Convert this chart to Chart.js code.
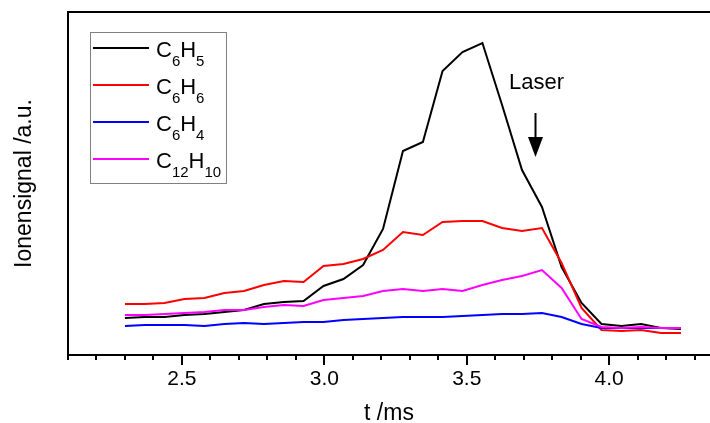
<!DOCTYPE html>
<html>
<head>
<meta charset="utf-8">
<script src="https://cdn.jsdelivr.net/npm/chart.js@4/dist/chart.umd.min.js"></script>
<style>
    html, body { margin: 0; padding: 0; background: #fff; }
    #wrap { width: 710px; height: 423px; }
</style>
</head>
<body>
<div id="wrap"><canvas id="ionChart" width="710" height="423"></canvas></div>
<script>
const FONT = '"Liberation Sans", Arial, sans-serif';

// Zeitachse (ms)
const timeMs = [2.300, 2.370, 2.439, 2.509, 2.579, 2.649, 2.718, 2.788, 2.858, 2.927,
                2.997, 3.067, 3.136, 3.206, 3.276, 3.346, 3.415, 3.485, 3.555, 3.624,
                3.694, 3.764, 3.833, 3.903, 3.973, 4.043, 4.112, 4.182, 4.252];

// Ionensignale (a.u.)
const c6h5   = [37, 38, 38, 40, 41, 43, 45, 51, 53, 54, 69, 76, 90, 126, 204, 213, 284, 303, 312, 250, 185, 148, 88, 52, 31, 29, 31, 27, 26];
const c6h6   = [51, 51, 52, 56, 57, 62, 64, 70, 74, 73, 89, 91, 96, 105, 123, 120, 133, 134, 134, 127, 124, 127, 92, 47, 25, 24, 25, 22, 22];
const c6h4   = [29, 30, 30, 30, 29, 31, 32, 31, 32, 33, 33, 35, 36, 37, 38, 38, 38, 39, 40, 41, 41, 42, 38, 31, 27, 27, 27, 27, 27];
const c12h10 = [40, 40, 41, 42, 43, 45, 45, 48, 50, 49, 55, 57, 59, 64, 66, 64, 66, 64, 70, 75, 79, 85, 67, 36, 28, 27, 28, 27, 27];

const seriesNames  = ['C6H5', 'C6H6', 'C6H4', 'C12H10'];
const seriesValues = [c6h5, c6h6, c6h4, c12h10];
const seriesColors = ['#000000', '#ff0000', '#0000ff', '#ff00ff'];

const xTickLabels = ['2.5', '3.0', '3.5', '4.0'];
const xMin = 2.1, xMax = 4.354;
const yMin = 0, yMax = 343;

// Laser-Markierung: Zeit, Pfeil von/bis, Textbasis
const laserTime = 3.74;
const laserArrow = [242, 198];
const laserTextY = 266;

// Summenformel mit tiefgestellten Ziffern zeichnen
function drawFormula(ctx, text, x, y) {
    let cx = x;
    text.match(/[A-Za-z]+|\d+/g).forEach(part => {
        const sub = /^\d+$/.test(part);
        ctx.font = (sub ? 15 : 22) + 'px ' + FONT;
        ctx.fillText(part, cx, sub ? y + 9 : y);
        cx += ctx.measureText(part).width;
    });
}

// Rahmen oben, Skalenstriche, Legende und Laser-Pfeil
const decorPlugin = {
    id: 'decor',
    afterDraw(chart) {
        const ctx = chart.ctx;
        const area = chart.chartArea;
        const xs = chart.scales.x;
        const ys = chart.scales.y;

        ctx.save();
        ctx.strokeStyle = '#000';
        ctx.lineWidth = 2;

        // obere Linie
        ctx.beginPath();
        ctx.moveTo(area.left - 1, area.top);
        ctx.lineTo(chart.width, area.top);
        ctx.stroke();

        // Skalenstriche (groß bei beschrifteten Werten)
        xs.ticks.forEach(t => {
            const v = t.value;
            if (v < xMin - 1e-6 || v > xMax + 1e-6) return;
            if (Math.abs(v * 10 - Math.round(v * 10)) > 1e-6) return;
            const major = xTickLabels.includes(v.toFixed(1));
            const px = Math.round(xs.getPixelForValue(v));
            ctx.beginPath();
            ctx.moveTo(px, area.bottom);
            ctx.lineTo(px, area.bottom + (major ? 10 : 5));
            ctx.stroke();
        });

        // Legende
        ctx.lineWidth = 1;
        ctx.strokeStyle = '#808080';
        ctx.strokeRect(90.5, 32.5, 136, 151);
        ctx.textBaseline = 'alphabetic';
        ctx.textAlign = 'left';
        seriesNames.forEach((name, i) => {
            const y = 48 + i * 37;
            ctx.strokeStyle = seriesColors[i];
            ctx.lineWidth = 2;
            ctx.beginPath();
            ctx.moveTo(93, y);
            ctx.lineTo(149, y);
            ctx.stroke();
            ctx.fillStyle = '#000';
            drawFormula(ctx, name, 156, y + 9);
        });

        // Laser
        const lx = Math.round(xs.getPixelForValue(laserTime)) + 0.5;
        const top = ys.getPixelForValue(laserArrow[0]);
        const tip = ys.getPixelForValue(laserArrow[1]);
        ctx.fillStyle = '#000';
        ctx.font = '22px ' + FONT;
        ctx.textAlign = 'center';
        ctx.fillText('Laser', lx + 1, ys.getPixelForValue(laserTextY));
        ctx.strokeStyle = '#000';
        ctx.lineWidth = 2;
        ctx.beginPath();
        ctx.moveTo(lx, top);
        ctx.lineTo(lx, tip - 16);
        ctx.stroke();
        ctx.beginPath();
        ctx.moveTo(lx - 7.5, tip - 20);
        ctx.lineTo(lx + 7.5, tip - 20);
        ctx.lineTo(lx, tip);
        ctx.closePath();
        ctx.fill();

        ctx.restore();
    }
};

const ctx = document.getElementById('ionChart').getContext('2d');
new Chart(ctx, {
    type: 'line',
    data: {
        datasets: seriesNames.map((name, i) => ({
            label: name,
            data: timeMs.map((t, k) => ({ x: t, y: seriesValues[i][k] })),
            borderColor: seriesColors[i],
            borderWidth: 2,
            pointRadius: 0,
            tension: 0,
            fill: false,
            order: seriesNames.length - i,
        }))
    },
    options: {
        responsive: false,
        animation: false,
        devicePixelRatio: 1,
        layout: { padding: { top: 12, right: 0, left: 0, bottom: 0 } },
        plugins: {
            legend: { display: false },
            tooltip: { enabled: false },
        },
        scales: {
            x: {
                type: 'linear',
                min: xMin,
                max: xMax,
                bounds: 'data',
                afterFit: s => { s.height = 68; },
                grid: {
                    display: true,
                    drawOnChartArea: false,
                    drawTicks: true,
                    tickLength: 10,
                    color: 'rgba(0,0,0,0)',
                },
                border: { display: true, color: '#000', width: 2 },
                ticks: {
                    stepSize: 0.1,
                    includeBounds: false,
                    autoSkip: false,
                    maxRotation: 0,
                    padding: 2,
                    color: '#000',
                    font: { family: FONT, size: 21 },
                    callback: v => {
                        const s = v.toFixed(1);
                        return (xTickLabels.includes(s) && Math.abs(v - parseFloat(s)) < 1e-6) ? s : '';
                    }
                },
                title: {
                    display: true,
                    text: 't /ms',
                    color: '#000',
                    font: { family: FONT, size: 23, lineHeight: 0.8 },
                    padding: 0,
                }
            },
            y: {
                min: yMin,
                max: yMax,
                afterFit: s => { s.width = 68; },
                grid: { display: false },
                border: { display: true, color: '#000', width: 2 },
                ticks: { display: false },
                title: {
                    display: true,
                    text: 'Ionensignal /a.u.',
                    color: '#000',
                    font: { family: FONT, size: 23, lineHeight: 0.8 },
                    padding: { top: 15, bottom: 0 },
                }
            }
        }
    },
    plugins: [decorPlugin]
});
</script>
</body>
</html>
